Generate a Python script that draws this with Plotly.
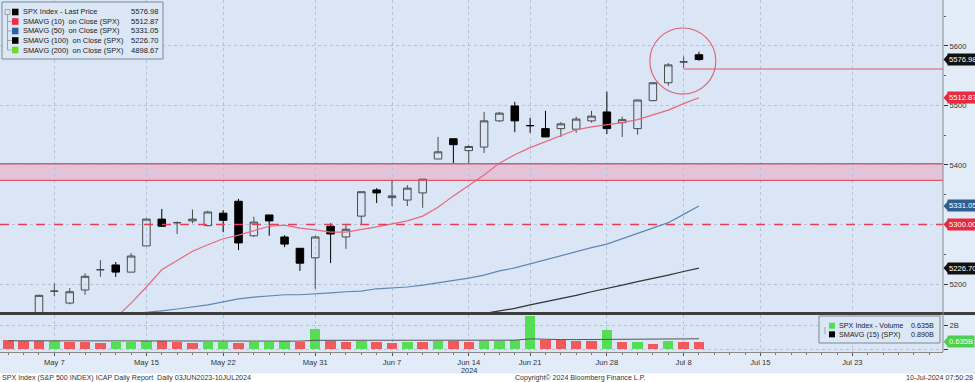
import plotly.graph_objects as go

# ---------------- data ----------------
dates = ["May 2", "May 3", "May 6", "May 7", "May 8", "May 9", "May 10", "May 13", "May 14", "May 15",
         "May 16", "May 17", "May 20", "May 21", "May 22", "May 23", "May 24", "May 28", "May 29", "May 30",
         "May 31", "Jun 3", "Jun 4", "Jun 5", "Jun 6", "Jun 7", "Jun 10", "Jun 11", "Jun 12", "Jun 13",
         "Jun 14", "Jun 17", "Jun 18", "Jun 20", "Jun 21", "Jun 24", "Jun 25", "Jun 26", "Jun 27", "Jun 28",
         "Jul 1", "Jul 2", "Jul 3", "Jul 5", "Jul 8", "Jul 9"]
idx = list(range(len(dates)))

opens = [5049, 5122, 5142, 5188, 5168, 5190, 5224, 5232, 5220, 5264,
         5309, 5303, 5306, 5298, 5319, 5339, 5281, 5316, 5279, 5260,
         5244, 5297, 5279, 5314, 5358, 5345, 5341, 5353, 5410, 5444,
         5424, 5430, 5474, 5499, 5466, 5461, 5461, 5460, 5474, 5489,
         5471, 5461, 5508, 5538, 5573, 5585]
highs = [5073, 5139, 5182, 5201, 5193, 5218, 5240, 5237, 5252, 5310,
         5326, 5305, 5325, 5323, 5324, 5343, 5313, 5316, 5282, 5260,
         5281, 5302, 5299, 5355, 5361, 5375, 5366, 5376, 5447, 5444,
         5433, 5489, 5489, 5506, 5479, 5491, 5472, 5481, 5491, 5523,
         5481, 5510, 5539, 5571, 5582, 5590]
lows = [5011, 5101, 5139, 5180, 5166, 5182, 5212, 5212, 5220, 5264,
        5296, 5284, 5302, 5297, 5287, 5257, 5279, 5281, 5262, 5222,
        5192, 5235, 5259, 5299, 5336, 5331, 5331, 5328, 5410, 5403,
        5403, 5420, 5472, 5455, 5454, 5447, 5447, 5454, 5471, 5452,
        5447, 5451, 5507, 5533, 5563, 5575]
closes = [5064, 5128, 5181, 5188, 5187, 5213, 5224, 5220, 5247, 5309,
          5297, 5303, 5309, 5321, 5307, 5269, 5304, 5306, 5267, 5235,
          5279, 5284, 5292, 5355, 5353, 5348, 5361, 5376, 5422, 5434,
          5431, 5474, 5487, 5474, 5466, 5447, 5469, 5477, 5482, 5461,
          5476, 5509, 5538, 5568, 5573, 5576.98]

sma10 = [5072, 5080, 5090, 5100, 5110, 5118, 5128, 5143, 5168, 5195,
         5224, 5240, 5255, 5266, 5276, 5282, 5289, 5297, 5299, 5294,
         5291, 5287, 5287, 5291, 5296, 5301, 5306, 5314, 5329, 5348,
         5365, 5383, 5403, 5417, 5429, 5439, 5449, 5459, 5464, 5467,
         5471, 5476, 5484, 5492, 5503, 5512.87]
sma50 = [5141, 5141, 5142, 5143, 5144, 5145, 5146, 5148, 5150, 5152,
         5155, 5158, 5161, 5165, 5170, 5175, 5178, 5180, 5182, 5182,
         5183, 5185, 5187, 5188, 5192, 5193, 5195, 5198, 5202, 5205,
         5210, 5215, 5222, 5227, 5234, 5240, 5247, 5254, 5261, 5267,
         5276, 5285, 5294, 5303, 5317, 5331.05]
sma100 = [None] * 28 + [5138, 5142, 5146, 5150, 5154, 5159, 5165, 5170, 5176, 5181,
                        5187, 5192, 5198, 5204, 5209, 5215, 5221, 5226.70]

volume = [0.75, 0.68, 0.66, 0.68, 0.64, 0.60, 0.56, 0.58, 0.60, 0.68,
          0.66, 0.64, 0.52, 0.60, 0.62, 0.56, 0.60, 0.62, 0.66, 0.64,
          1.72, 0.68, 0.64, 0.68, 0.62, 0.56, 0.62, 0.60, 0.72, 0.66,
          0.60, 0.66, 0.68, 0.80, 2.78, 0.78, 0.76, 0.68, 0.66, 1.64,
          0.62, 0.64, 0.42, 0.66, 0.65, 0.635]
vol_up = [0, 0, 0, 1, 0, 0, 0, 1, 1, 1,
          0, 0, 0, 1, 1, 0, 1, 1, 1, 0,
          1, 0, 0, 1, 0, 0, 1, 0, 1, 0,
          0, 1, 1, 1, 1, 0, 0, 0, 0, 1,
          0, 1, 0, 1, 0, 0]
vol_sma15 = [0.72, 0.72, 0.72, 0.72, 0.71, 0.71, 0.71, 0.70, 0.70, 0.70,
             0.70, 0.70, 0.69, 0.69, 0.69, 0.69, 0.69, 0.69, 0.69, 0.69,
             0.76, 0.76, 0.76, 0.76, 0.76, 0.76, 0.75, 0.75, 0.75, 0.75,
             0.75, 0.75, 0.76, 0.77, 0.88, 0.82, 0.82, 0.82, 0.82, 0.87,
             0.87, 0.87, 0.86, 0.87, 0.88, 0.89]

tick_pos = [3, 9, 14, 20, 25, 30, 34, 39, 44, 49, 55]
tick_text = ["May 7", "May 15", "May 22", "May 31", "Jun 7", "Jun 14", "Jun 21", "Jun 28", "Jul 8", "Jul 15", "Jul 23"]

price_ticks = [5200, 5300, 5400, 5500, 5600]
price_tick_text = ["5200", "", "5400", "5500", "5600"]

legend_names = ["SPX Index - Last Price", "SMAVG (10)&nbsp; on Close (SPX)", "SMAVG (50)&nbsp; on Close (SPX)",
                "SMAVG (100)&nbsp; on Close (SPX)", "SMAVG (200)&nbsp; on Close (SPX)"]
legend_values = ["5576.98", "5512.87", "5331.05", "5226.70", "4898.67"]
legend_colors = ["#000000", "#ee2a45", "#2d64a0", "#000000", "#6fd82a"]

band_low, band_high = 5374, 5402
dash_level = 5300
last_level = 5561

# ---------------- geometry helpers ----------------
W, H = 975, 382
PW, PH = 943, 352  # plot area in pixels (margin l=0, t=0)


def px(x):
    return x / PW


def py(y):
    return (PH - y) / PH


FONT = "Liberation Sans"
XR = [-0.54, 60.9]

fig = go.Figure()

fig.add_trace(go.Candlestick(
    x=idx, open=opens, high=highs, low=lows, close=closes,
    increasing=dict(line=dict(color="#4a4a4a", width=1), fillcolor="rgba(255,255,255,0)"),
    decreasing=dict(line=dict(color="#000000", width=1), fillcolor="#000000"),
    whiskerwidth=0, showlegend=False, hoverinfo="skip", xaxis="x", yaxis="y"))

fig.add_trace(go.Scatter(x=idx, y=sma10, mode="lines", line=dict(color="#e8687a", width=1.2),
                         showlegend=False, xaxis="x", yaxis="y"))
fig.add_trace(go.Scatter(x=idx, y=sma50, mode="lines", line=dict(color="#5e87b5", width=1.2),
                         showlegend=False, xaxis="x", yaxis="y"))
fig.add_trace(go.Scatter(x=idx, y=sma100, mode="lines", line=dict(color="#333333", width=1.2),
                         showlegend=False, xaxis="x", yaxis="y"))

fig.add_trace(go.Bar(x=idx, y=volume, width=0.68,
                     marker=dict(color=["#55dd55" if u else "#f05a5a" for u in vol_up], line=dict(width=0)),
                     showlegend=False, xaxis="x2", yaxis="y2"))
fig.add_trace(go.Scatter(x=idx, y=vol_sma15, mode="lines", line=dict(color="#555555", width=1),
                         showlegend=False, xaxis="x2", yaxis="y2"))

shapes = []
annotations = []

# resistance band
shapes.append(dict(type="rect", xref="paper", yref="y", x0=0, x1=1, y0=band_low, y1=band_high,
                   fillcolor="rgba(235,160,185,0.5)", line=dict(width=0), layer="below"))
for lv in (band_low, band_high):
    shapes.append(dict(type="line", xref="paper", yref="y", x0=0, x1=1, y0=lv, y1=lv,
                       line=dict(color="#e4576a", width=1.3)))
# dashed 5300
shapes.append(dict(type="line", xref="paper", yref="y", x0=0, x1=1, y0=dash_level, y1=dash_level,
                   line=dict(color="#e0405c", width=1.4, dash="dash")))
# last level line
shapes.append(dict(type="line", xref="x", yref="y", x0=44, x1=XR[1], y0=last_level, y1=last_level,
                   line=dict(color="#e4576a", width=1.1)))
# circle
shapes.append(dict(type="circle", xref="x", yref="y", x0=41.8, x1=46.1, y0=5519, y1=5630,
                   line=dict(color="#e06070", width=1.1)))
# separator between panels
shapes.append(dict(type="rect", xref="paper", yref="paper", x0=0, x1=W / PW, y0=py(315), y1=py(312),
                   fillcolor="#3e3e3e", line=dict(width=0)))
# right axis line
shapes.append(dict(type="line", xref="paper", yref="paper", x0=1, x1=1, y0=0, y1=1,
                   line=dict(color="#8a8a8a", width=1)))
# white footer strip
shapes.append(dict(type="rect", xref="paper", yref="paper", x0=0, x1=W / PW, y0=py(382), y1=py(373.5),
                   fillcolor="#ffffff", line=dict(width=0), layer="below"))

# ---- top-left legend box ----
shapes.append(dict(type="rect", xref="paper", yref="paper", x0=px(2), x1=px(163), y0=py(59), y1=py(2),
                   fillcolor="#dce7f6", line=dict(color="#7d8797", width=1)))
rows = [12, 21.5, 31, 40.5, 50]
shapes.append(dict(type="line", xref="paper", yref="paper", x0=px(7.5), x1=px(7.5), y0=py(50), y1=py(14),
                   line=dict(color="#9aa3b0", width=1)))
shapes.append(dict(type="rect", xref="paper", yref="paper", x0=px(5), x1=px(10), y0=py(14.5), y1=py(9.5),
                   fillcolor="#dce7f6", line=dict(color="#9aa3b0", width=1)))
for r, name, val, col in zip(rows, legend_names, legend_values, legend_colors):
    if r != rows[0]:
        shapes.append(dict(type="line", xref="paper", yref="paper", x0=px(7.5), x1=px(11.5), y0=py(r), y1=py(r),
                           line=dict(color="#9aa3b0", width=1)))
    shapes.append(dict(type="rect", xref="paper", yref="paper", x0=px(12), x1=px(18.5), y0=py(r + 3.3), y1=py(r - 3.3),
                       fillcolor=col, line=dict(width=0)))
    annotations.append(dict(xref="paper", yref="paper", x=px(20.5), y=py(r), text=name, showarrow=False,
                            xanchor="left", yanchor="middle", font=dict(family=FONT, size=7.4, color="#1a1a1a")))
    annotations.append(dict(xref="paper", yref="paper", x=px(159.5), y=py(r), text=val, showarrow=False,
                            xanchor="right", yanchor="middle", font=dict(family=FONT, size=7.6, color="#1a1a1a")))

# ---- volume legend box ----
shapes.append(dict(type="rect", xref="paper", yref="paper", x0=px(819), x1=px(940), y0=py(343), y1=py(316),
                   fillcolor="#dce7f6", line=dict(color="#7d8797", width=1)))
shapes.append(dict(type="line", xref="paper", yref="paper", x0=px(825), x1=px(825), y0=py(334.3), y1=py(327),
                   line=dict(color="#9aa3b0", width=1)))
for r, name, val, col in [(325.7, "SPX Index - Volume", "0.635B", "#55dd55"),
                          (334.3, "SMAVG (15) (SPX)", "0.890B", "#000000")]:
    shapes.append(dict(type="rect", xref="paper", yref="paper", x0=px(829), x1=px(835), y0=py(r + 3), y1=py(r - 3),
                       fillcolor=col, line=dict(width=0)))
    annotations.append(dict(xref="paper", yref="paper", x=px(837), y=py(r), text=name, showarrow=False,
                            xanchor="left", yanchor="middle", font=dict(family=FONT, size=7.2, color="#1a1a1a")))
    annotations.append(dict(xref="paper", yref="paper", x=px(936), y=py(r), text=val, showarrow=False,
                            xanchor="right", yanchor="middle", font=dict(family=FONT, size=7.2, color="#1a1a1a")))

# ---- right-side value tags ----
tags = [(5576.98, "5576.98", "#111111", "y"), (5512.87, "5512.87", "#e8293e", "y"),
        (5331.05, "5331.05", "#2e5f93", "y"), (5300.00, "5300.00", "#e8293e", "y"),
        (5226.70, "5226.70", "#111111", "y"), (0.635, "0.635B", "#4fcf4f", "y2")]
for yv, txt, col, yr in tags:
    half = 5.0 / 0.595 if yr == "y" else 0.42
    shapes.append(dict(type="path", xref="paper", yref=yr,
                       path=f"M {px(943.5)},{yv} L {px(948)},{yv + half} L {px(948)},{yv - half} Z",
                       fillcolor=col, line=dict(width=0)))
    annotations.append(dict(xref="paper", yref=yr, x=px(947), y=yv, text=txt, showarrow=False,
                            xanchor="left", yanchor="middle", bgcolor=col, borderpad=1,
                            font=dict(family=FONT, size=7.6, color="#ffffff")))

# ---- x labels extras and footer ----
annotations.append(dict(xref="x2", yref="paper", x=30, y=py(370.5), text="2024", showarrow=False,
                        xanchor="center", yanchor="middle", font=dict(family=FONT, size=7.4, color="#333333")))
annotations.append(dict(xref="paper", yref="paper", x=0, y=py(378.3),
                        text="SPX Index (S&P 500 INDEX) ICAP Daily Report&nbsp; Daily 03JUN2023-10JUL2024",
                        showarrow=False, xanchor="left", yanchor="middle",
                        font=dict(family=FONT, size=7.1, color="#333333")))
annotations.append(dict(xref="paper", yref="paper", x=px(513), y=py(378.3),
                        text="Copyright© 2024 Bloomberg Finance L.P.", showarrow=False,
                        xanchor="left", yanchor="middle", font=dict(family=FONT, size=7.1, color="#333333")))
annotations.append(dict(xref="paper", yref="paper", x=W / PW, y=py(378.3), text="10-Jul-2024 07:50:28",
                        showarrow=False, xanchor="right", yanchor="middle",
                        font=dict(family=FONT, size=7.1, color="#333333")))

grid = dict(showgrid=True, gridcolor="#b6c3d6", griddash="dot", gridwidth=1)

fig.update_layout(
    width=W, height=H,
    margin=dict(l=0, r=W - PW, t=0, b=H - PH),
    paper_bgcolor="#e2ebf8", plot_bgcolor="#dae6f6",
    font=dict(family=FONT, size=8, color="#333333"),
    showlegend=False, bargap=0,
    shapes=shapes, annotations=annotations,
    xaxis=dict(domain=[0, 1], range=XR, anchor="y", tickvals=tick_pos, showticklabels=False,
               ticks="", zeroline=False, rangeslider=dict(visible=False), **grid),
    xaxis2=dict(domain=[0, 1], range=XR, anchor="y2", tickvals=tick_pos, ticktext=tick_text,
                ticks="outside", ticklen=3, tickcolor="#555555", zeroline=False,
                showline=True, linecolor="#888888", linewidth=1,
                tickfont=dict(family=FONT, size=7.6, color="#333333"),
                minor=dict(dtick=1, tick0=0, ticks="outside", ticklen=2, tickcolor="#777777", showgrid=False),
                **grid),
    yaxis=dict(domain=[(PH - 312) / PH, 1], range=[5153, 5677], side="right", anchor="x",
               tickvals=price_ticks, ticktext=price_tick_text, ticks="outside", ticklen=4, tickcolor="#333333",
               tickfont=dict(family=FONT, size=7.6, color="#333333"), zeroline=False,
               minor=dict(dtick=50, tick0=0, ticks="outside", ticklen=2, tickcolor="#555555", showgrid=False),
               **grid),
    yaxis2=dict(domain=[0, (PH - 315) / PH], range=[-0.23, 2.9], side="right", anchor="x2",
                tickvals=[0, 2], ticktext=["", "2B"], ticks="outside", ticklen=4, tickcolor="#333333",
                tickfont=dict(family=FONT, size=7.6, color="#333333"), zeroline=False, **grid),
)

fig.write_html("out.html", config={"displayModeBar": False},
               post_script="document.body.style.margin='0';document.body.style.overflow='hidden';")
